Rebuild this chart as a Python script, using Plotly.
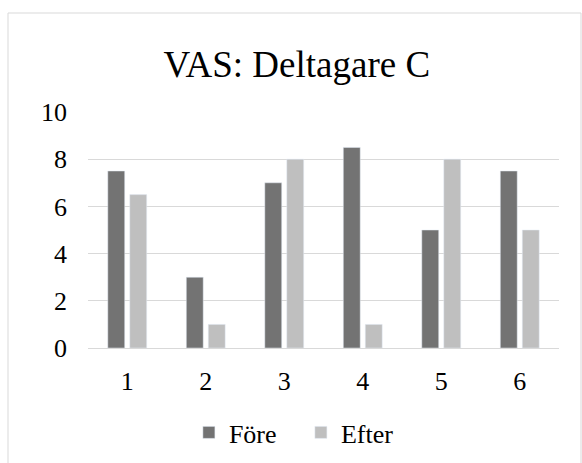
import plotly.graph_objects as go

categories = ["1", "2", "3", "4", "5", "6"]
fore = [7.5, 3, 7, 8.5, 5, 7.5]
efter = [6.5, 1, 8, 1, 8, 5]
y_ticks = [0, 2, 4, 6, 8, 10]

font_family = "Liberation Serif"

fig = go.Figure(
    [
        go.Bar(x=categories, y=fore, name="Före", marker_color="#737373"),
        go.Bar(x=categories, y=efter, name="Efter", marker_color="#bfbfbf"),
    ]
)

fig.update_layout(
    width=582,
    height=463,
    margin=dict(l=88, r=23, t=112, b=115),
    paper_bgcolor="white",
    plot_bgcolor="white",
    font=dict(family=font_family, size=26, color="#000000"),
    title=dict(
        text="VAS: Deltagare C",
        font=dict(family=font_family, size=37, color="#000000"),
        x=0.51,
        xref="container",
        xanchor="center",
        y=1 - 64 / 463,
        yref="container",
        yanchor="middle",
    ),
    barmode="group",
    bargap=0.44,
    bargroupgap=0.23,
    showlegend=True,
    legend=dict(
        orientation="h",
        x=0.452,
        xanchor="center",
        y=(463 - 409) / 463,
        yref="container",
        yanchor="top",
        font=dict(family=font_family, size=26),
        itemwidth=30,
        entrywidth=67,
    ),
)

fig.update_yaxes(
    range=[0, 10],
    tickvals=y_ticks,
    showgrid=True,
    gridcolor="#d9d9d9",
    gridwidth=1,
    zeroline=False,
    showline=False,
    ticklabelstandoff=20,
)
fig.update_xaxes(
    showgrid=False,
    showline=True,
    linecolor="#d9d9d9",
    linewidth=1,
    ticklabelstandoff=10,
)

# chart border
fig.add_shape(
    type="rect",
    xref="paper",
    yref="paper",
    x0=(8 - 88) / 471,
    x1=(581 - 88) / 471,
    y0=-0.6,
    y1=(348 - 13) / 236,
    line=dict(color="#d9d9d9", width=1),
    fillcolor="rgba(0,0,0,0)",
    layer="below",
)

# page has a default 8px body margin; drop it so the figure sits at 0,0
fig.write_html(
    "out.html",
    config={"displayModeBar": False},
    post_script="document.body.style.margin='0';",
)
